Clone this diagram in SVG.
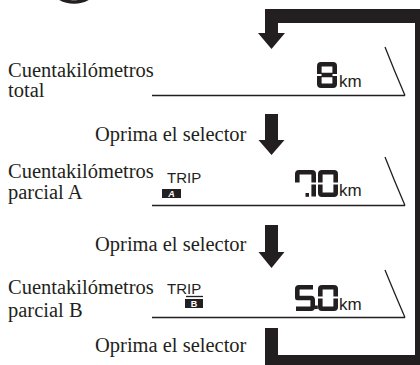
<svg xmlns="http://www.w3.org/2000/svg" width="420" height="365" viewBox="0 0 420 365">
<style>
.lbl{font-family:"Liberation Serif","Times New Roman",serif;font-size:20.5px;fill:#231f20}
.trip{font-family:"Liberation Sans",Arial,sans-serif;font-size:15px;fill:#231f20}
.km{font-family:"Liberation Sans",Arial,sans-serif;font-size:17px;fill:#231f20}
.badge{font-family:"Liberation Sans",Arial,sans-serif;font-size:9px;font-weight:bold;fill:#fff;text-anchor:middle}
.line{stroke:#231f20;stroke-width:1.3;fill:none}
.seg{stroke:#231f20;stroke-width:4.6;fill:none;stroke-linecap:butt;stroke-linejoin:round}
.blk{fill:#231f20}
</style>
<rect width="420" height="365" fill="#fff"/>
<circle cx="74" cy="-26.5" r="28.5" fill="none" stroke="#231f20" stroke-width="3.5"/>
<g id="connectors">
<path class="blk" d="M265,9 H420 V365 H265 V328 H278 V355 H415 V23 H278 V33 H285 L271.5,49 L258,33 H265 Z"/>
<path class="blk" d="M265,114 H278 V140 H284.5 L271.5,155 L258.5,140 H265 Z"/>
<path class="blk" d="M265,225 H278 V252 H284.5 L271.5,268 L258.5,252 H265 Z"/>
</g>
<g id="node-total">
<text class="lbl" x="8" y="77">Cuentakilómetros</text>
<text class="lbl" x="8" y="97">total</text>
<path class="line" d="M152,95.5 H405 M385,47 Q394,70 405,95.5"/>
<path class="seg" d="M319.3,74 V66 Q319.3,64.3 321,64.3 H333 Q334.7,64.3 334.7,66 V74 M334.7,76 V84 Q334.7,85.7 333,85.7 H321 Q319.3,85.7 319.3,84 V76 M321.5,75 H332.5"/>
<text class="km" x="339" y="87">km</text>
</g>
<g id="label-1"><text class="lbl" x="95" y="141">Oprima el selector</text></g>
<g id="node-trip-a">
<text class="lbl" x="8" y="178">Cuentakilómetros</text>
<text class="lbl" x="8" y="199">parcial A</text>
<text class="trip" x="167" y="183">TRIP</text>
<rect class="blk" x="162" y="189" width="19" height="9"/>
<text class="badge" x="171.5" y="197" font-style="italic">A</text>
<path class="line" d="M152,205.5 H405 M385,157 Q394,180 405,205.5"/>
<path class="seg" d="M297.3,182.5 V174 Q297.3,172.3 299,172.3 H312 Q313.7,172.3 313.7,174 V182.5 M313.7,184.5 V196.5"/>
<rect class="blk" x="305.5" y="193" width="3.5" height="3.8"/>
<path class="seg" d="M320.3,182.5 V174 Q320.3,172.3 322,172.3 H334 Q335.7,172.3 335.7,174 V182.5 M335.7,184.5 V193 Q335.7,194.7 334,194.7 H322 Q320.3,194.7 320.3,193 V184.5"/>
<text class="km" x="339" y="196">km</text>
</g>
<g id="label-2"><text class="lbl" x="95" y="251">Oprima el selector</text></g>
<g id="node-trip-b">
<text class="lbl" x="8" y="294">Cuentakilómetros</text>
<text class="lbl" x="8" y="317">parcial B</text>
<text class="trip" x="167" y="294">TRIP</text>
<path class="line" d="M186,296.5 H203" stroke-width="1"/>
<rect class="blk" x="185" y="299" width="18" height="9"/>
<text class="badge" x="194" y="307">B</text>
<path class="line" d="M152,317.5 H405 M385,270 Q394,292 405,317.5"/>
<path class="seg" d="M313,287.3 H299 Q297.3,287.3 297.3,289 V298 H311 Q312.7,298 312.7,300 V307 Q312.7,308.7 311,308.7 H296"/>
<rect class="blk" x="314.5" y="305.5" width="3.3" height="3.5"/>
<path class="seg" d="M320.3,296.5 V289 Q320.3,287.3 322,287.3 H334 Q335.7,287.3 335.7,289 V296.5 M335.7,298.5 V307 Q335.7,308.7 334,308.7 H322 Q320.3,308.7 320.3,307 V298.5"/>
<text class="km" x="339" y="310">km</text>
</g>
<g id="label-3"><text class="lbl" x="95" y="352">Oprima el selector</text></g>
</svg>
